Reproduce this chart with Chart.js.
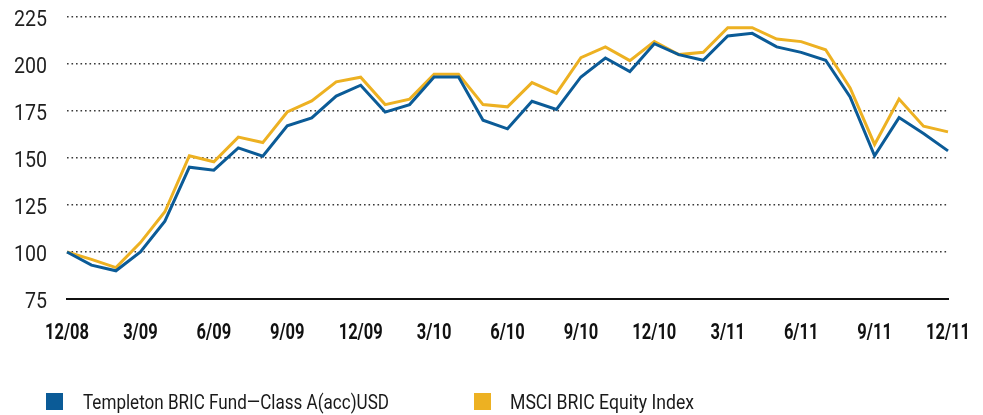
<!DOCTYPE html>
<html>
<head>
<meta charset="utf-8">
<script src="https://cdn.jsdelivr.net/npm/chart.js@4/dist/chart.umd.min.js"></script>
<style>
  html, body { margin: 0; padding: 0; background: #fff; }
  #wrap { position: relative; width: 983px; height: 415px; overflow: hidden; }
  canvas { position: absolute; left: 0; top: 0; }
  .sw { position: absolute; top: 393px; width: 17px; height: 17px; }
  .lt { position: absolute; top: 392px; font-family: Roboto, sans-serif; font-size: 20px; line-height: 20px; color: #1a1a1a; white-space: nowrap; transform-origin: 0 0; }
</style>
</head>
<body>
<div id="wrap">
  <canvas id="c" width="983" height="415"></canvas>
  <span class="sw" style="left:46px;background:#0b5b97"></span>
  <span class="lt" id="l1" style="left:83px;"></span>
  <span class="sw" style="left:474px;background:#edb122"></span>
  <span class="lt" id="l2" style="left:510px;"></span>
</div>
<script>
const months = ["12/08","1/09","2/09","3/09","4/09","5/09","6/09","7/09","8/09","9/09","10/09","11/09",
  "12/09","1/10","2/10","3/10","4/10","5/10","6/10","7/10","8/10","9/10","10/10","11/10",
  "12/10","1/11","2/11","3/11","4/11","5/11","6/11","7/11","8/11","9/11","10/11","11/11","12/11"];
const seriesNames = ["Templeton BRIC Fund\u2014Class A(acc)USD", "MSCI BRIC Equity Index"];
const templeton = [100, 93, 90, 100, 116.4, 145.1, 143.5, 155.4, 151, 167.1, 171.3, 182.9,
  188.7, 174.4, 178.4, 193.1, 193.1, 170.1, 165.5, 180.2, 175.8, 193.1, 203.2, 196,
  210.8, 205, 202, 214.9, 216.3, 209.1, 206.2, 202, 182.5, 151.2, 171.5, 163, 153.8];
const msci = [100, 96.1, 91.7, 105, 121.4, 151.2, 148, 161.1, 158.2, 174.5, 180.4, 190.5,
  193, 178.4, 181.3, 194.5, 194.5, 178.4, 177.2, 190.1, 184.4, 203.4, 209.1, 201.8,
  211.9, 205, 206.2, 219.3, 219.3, 213.3, 211.9, 207.6, 187.3, 157.2, 181.4, 166.9, 163.9];
const yTicks = [75, 100, 125, 150, 175, 200, 225];

// legend text (condensed look via horizontal scaling)
function fitText(el, text, target) {
  el.textContent = text;
  const w = el.getBoundingClientRect().width;
  el.style.transform = 'scaleX(' + (target / w) + ')';
}
fitText(document.getElementById('l1'), seriesNames[0], 306);
fitText(document.getElementById('l2'), seriesNames[1], 184);

const YFONT = "22px Roboto";
const XFONT = "bold 22px Roboto";

const labelPlugin = {
  id: 'condensedLabels',
  afterDraw(chart) {
    const ctx = chart.ctx;
    const xs = chart.scales.x, ys = chart.scales.y;
    ctx.save();
    // y labels
    ctx.font = YFONT;
    ctx.fillStyle = '#1e1e1e';
    ctx.textAlign = 'right';
    ctx.textBaseline = 'alphabetic';
    const ySx = 33 / ctx.measureText('225').width;
    ys.ticks.forEach(t => {
      const py = ys.getPixelForValue(t.value);
      ctx.save();
      ctx.translate(47, py + 8.5);
      ctx.scale(ySx, 1);
      ctx.fillText(String(t.value), 0, 0);
      ctx.restore();
    });
    // x labels
    ctx.font = XFONT;
    ctx.fillStyle = '#111';
    ctx.textAlign = 'center';
    const xSx = 44 / ctx.measureText('12/08').width;
    months.forEach((m, i) => {
      if (i % 3 !== 0) return;
      const px = xs.getPixelForValue(i);
      ctx.save();
      ctx.translate(px, 339);
      ctx.scale(xSx, 1);
      ctx.fillText(m, 0, 0);
      ctx.restore();
    });
    ctx.restore();
  }
};

new Chart(document.getElementById('c'), {
  type: 'line',
  data: {
    labels: months,
    datasets: [
      { label: seriesNames[0], data: templeton, borderColor: '#0b5b97', backgroundColor: '#0b5b97', borderWidth: 3, pointRadius: 0, tension: 0 },
      { label: seriesNames[1], data: msci, borderColor: '#edb122', backgroundColor: '#edb122', borderWidth: 3, pointRadius: 0, tension: 0 }
    ]
  },
  options: {
    responsive: false,
    animation: false,
    layout: { padding: { top: 17, right: 35, bottom: 71, left: 0 } },
    plugins: { legend: { display: false }, tooltip: { enabled: false } },
    scales: {
      x: {
        offset: false,
        grid: { display: false, drawTicks: false },
        border: { display: true, color: '#111', width: 2 },
        afterFit: s => { s.height = 45; },
        ticks: { display: false, autoSkip: false, maxRotation: 0 }
      },
      y: {
        min: 75, max: 225,
        afterBuildTicks: s => { s.ticks = yTicks.map(v => ({ value: v })); },
        afterFit: s => { s.width = 67; },
        border: { display: false, dash: [1.6, 2.9] },
        grid: {
          drawTicks: false,
          color: ctx => ctx.tick && ctx.tick.value === 75 ? 'rgba(0,0,0,0)' : '#3a3a3a',
          lineWidth: 1.6
        },
        ticks: { display: false }
      }
    }
  },
  plugins: [labelPlugin]
});
</script>
</body>
</html>
